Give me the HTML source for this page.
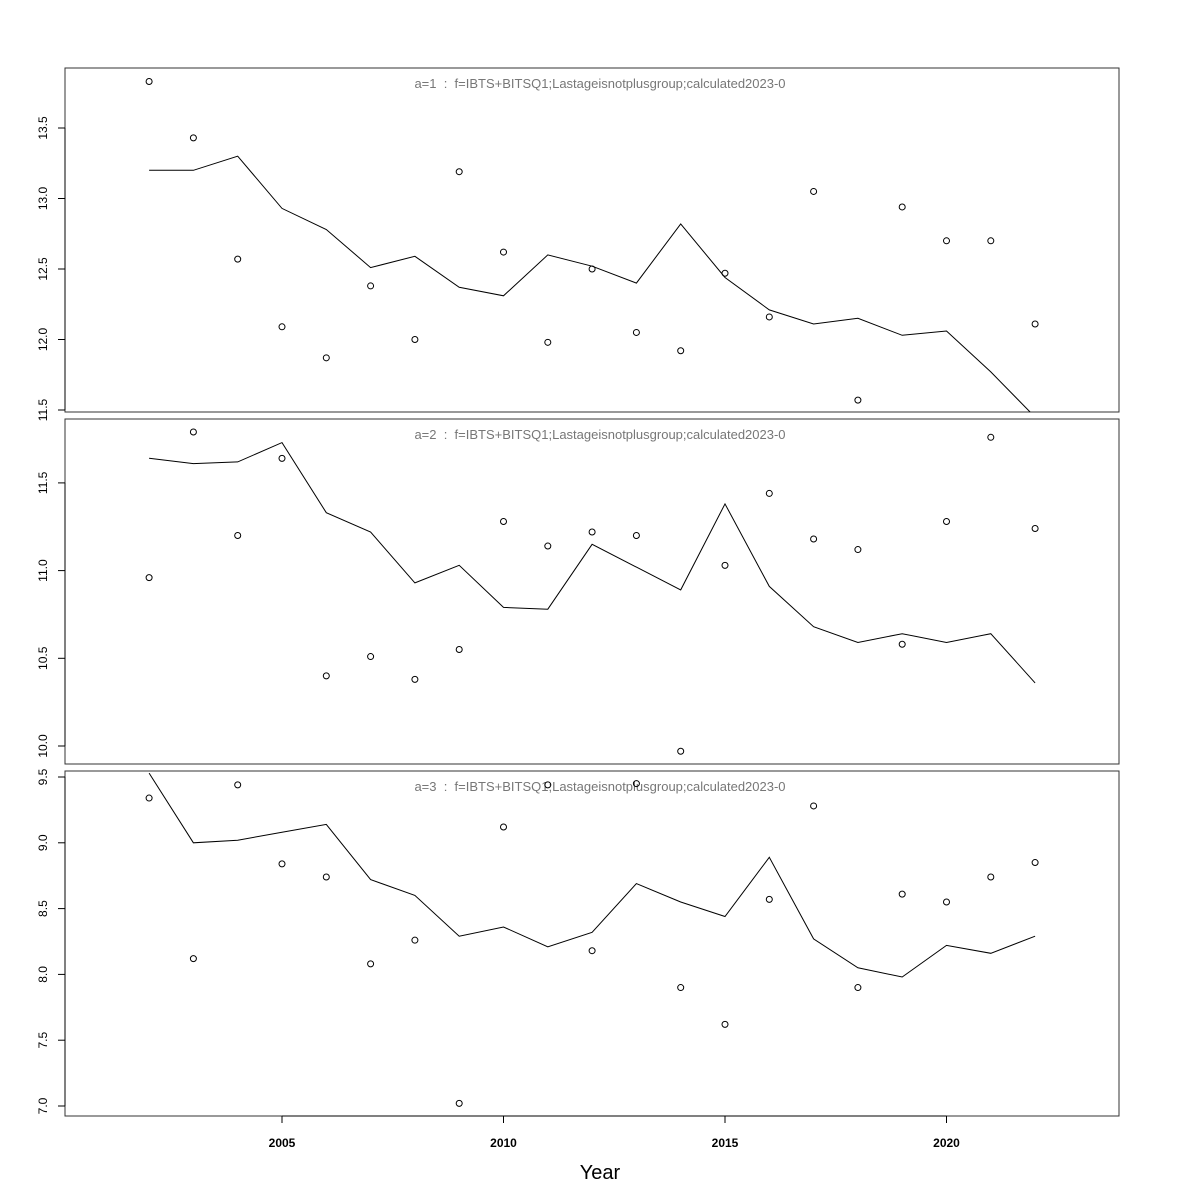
<!DOCTYPE html>
<html><head><meta charset="utf-8"><style>
html,body{margin:0;padding:0;background:#fff;}
svg{display:block;font-family:"Liberation Sans",sans-serif;}
.ttl{white-space:pre;}
</style></head><body>
<svg id="chart" width="1200" height="1200" viewBox="0 0 1200 1200"></svg>
<script>
const years=[2002,2003,2004,2005,2006,2007,2008,2009,2010,2011,2012,2013,2014,2015,2016,2017,2018,2019,2020,2021,2022];
const obs1=[13.83,13.43,12.57,12.09,11.87,12.38,12.00,13.19,12.62,11.98,12.50,12.05,11.92,12.47,12.16,13.05,11.57,12.94,12.70,12.70,12.11];
const fit1=[13.20,13.20,13.30,12.93,12.78,12.51,12.59,12.37,12.31,12.60,12.52,12.40,12.82,12.44,12.21,12.11,12.15,12.03,12.06,11.77,11.45];
const obs2=[10.96,11.79,11.20,11.64,10.40,10.51,10.38,10.55,11.28,11.14,11.22,11.20,9.97,11.03,11.44,11.18,11.12,10.58,11.28,11.76,11.24];
const fit2=[11.64,11.61,11.62,11.73,11.33,11.22,10.93,11.03,10.79,10.78,11.15,11.02,10.89,11.38,10.91,10.68,10.59,10.64,10.59,10.64,10.36];
const obs3=[9.34,8.12,9.44,8.84,8.74,8.08,8.26,7.02,9.12,9.44,8.18,9.45,7.90,7.62,8.57,9.28,7.90,8.61,8.55,8.74,8.85];
const fit3=[9.53,9.00,9.02,9.08,9.14,8.72,8.60,8.29,8.36,8.21,8.32,8.69,8.55,8.44,8.89,8.27,8.05,7.98,8.22,8.16,8.29];
const yticks1=[11.5,12.0,12.5,13.0,13.5];
const yticks2=[10.0,10.5,11.0,11.5];
const yticks3=[7.0,7.5,8.0,8.5,9.0,9.5];
const xticks=[2005,2010,2015,2020];
const titles=["a=1  :  f=IBTS+BITSQ1;Lastageisnotplusgroup;calculated2023-0","a=2  :  f=IBTS+BITSQ1;Lastageisnotplusgroup;calculated2023-0","a=3  :  f=IBTS+BITSQ1;Lastageisnotplusgroup;calculated2023-0"];

const NS="http://www.w3.org/2000/svg";
const svg=document.getElementById('chart');
function mk(tag,attrs,parent){const e=document.createElementNS(NS,tag);for(const k in attrs)e.setAttribute(k,attrs[k]);(parent||svg).appendChild(e);return e;}
const X0=65,X1=1119;
function xs(yr){return 282+(yr-2005)*44.3;}
const panels=[
 {top:68,bot:412,v0:11.5,y0:410,pxPer:141,obs:obs1,fit:fit1,ticks:yticks1},
 {top:419,bot:764,v0:10.0,y0:746,pxPer:175.4,obs:obs2,fit:fit2,ticks:yticks2},
 {top:771,bot:1116,v0:7.0,y0:1106,pxPer:131.6,obs:obs3,fit:fit3,ticks:yticks3}
];
panels.forEach((p,i)=>{
 const ys=v=>p.y0-(v-p.v0)*p.pxPer;
 const g=mk('g',{});
 
 
 const cp=mk('clipPath',{id:'cp'+i},g);
 mk('rect',{x:X0,y:p.top,width:X1-X0,height:p.bot-p.top},cp);
 const frame=mk('rect',{x:X0,y:p.top,width:X1-X0,height:p.bot-p.top,fill:'none',stroke:'#333','stroke-width':1},g);
 
 
 const ya=mk('line',{x1:X0,x2:X0,y1:ys(p.ticks[0]),y2:ys(p.ticks[p.ticks.length-1]),stroke:'#000'},g);
 
 
 p.ticks.forEach(t=>{
  mk('line',{x1:X0-7,x2:X0,y1:ys(t),y2:ys(t),stroke:'#000'},g);
  const tx=mk('text',{x:0,y:0,transform:'translate(47,'+ys(t)+') rotate(-90)','text-anchor':'middle','font-size':12,fill:'#000'},g);
  
  
  tx.textContent=t.toFixed(1);
 });
 const tt=mk('text',{x:600,y:p.top+20,'text-anchor':'middle','font-size':13,fill:'#777','class':'ttl'},g);
 
 
 tt.textContent=titles[i];
 const pts=years.map((yr,j)=>xs(yr).toFixed(1)+','+ys(p.fit[j]).toFixed(1)).join(' ');
 const ln=mk('polyline',{points:pts,fill:'none',stroke:'#000','stroke-width':1,'clip-path':'url(#cp'+i+')'},g);
 
 
 years.forEach((yr,j)=>{
  const c=mk('circle',{cx:xs(yr),cy:ys(p.obs[j]),r:3,fill:'none',stroke:'#000','stroke-width':1},g);
  
  
 });
});
const xa=mk('line',{x1:xs(xticks[0]),x2:xs(xticks[xticks.length-1]),y1:1116,y2:1116,stroke:'#000'});


xticks.forEach(t=>{
 mk('line',{x1:xs(t),x2:xs(t),y1:1116,y2:1123,stroke:'#000'});
 const tx=mk('text',{x:xs(t),y:1147,'text-anchor':'middle','font-size':12,'font-weight':'bold',fill:'#000'});
 
 
 tx.textContent=t;
});
const xt=mk('text',{x:600,y:1179,'text-anchor':'middle','font-size':20,fill:'#000'});


xt.textContent='Year';
</script>
</body></html>
